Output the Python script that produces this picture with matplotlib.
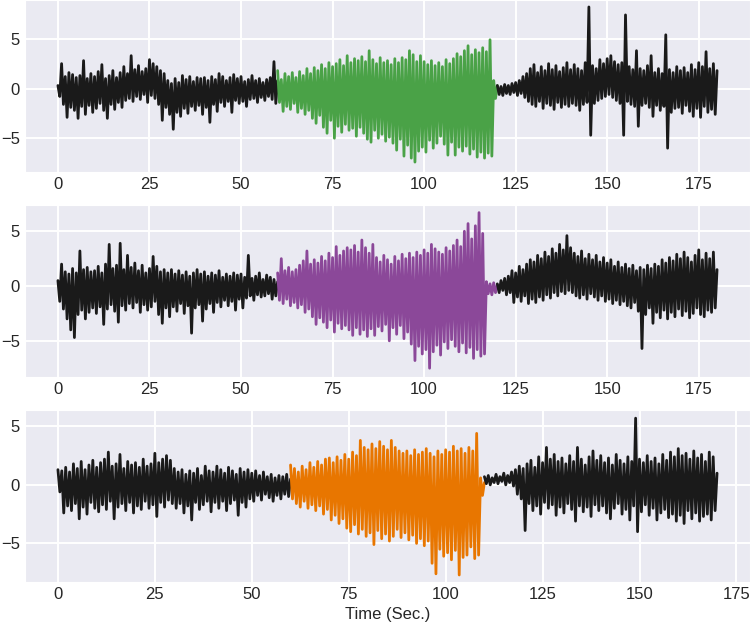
import numpy as np
import matplotlib
matplotlib.use("Agg")
import matplotlib.pyplot as plt
import seaborn as sns

# signal samples, one value every 0.5 s
p1_black_a = [0.3, -0.8, 2.5, -1.6, 1.2, -2.9, 1.6, -1.9, 1.4, -2.2, 1.1, -3.0, 1.3, -1.8, 2.8, -2.6, 1.0, -1.7, 1.5, -2.4,
              1.2, -2.0, 1.7, -1.5, 2.4, -2.2, 1.0, -3.0, 1.3, -1.6, 1.8, -2.1, 1.1, -1.4, 1.6, -1.9, 2.2, -1.2, 1.5, -1.0,
              3.3, -1.3, 1.9, -0.8, 2.3, -1.1, 1.7, -0.6, 2.0, -1.4, 2.9, -0.7, 2.5, -1.0, 2.2, -1.6, 1.8, -3.2, 1.5, -1.9,
              0.8, -2.6, 0.5, -4.1, 1.0, -2.4, 0.6, -2.8, 1.3, -2.0, 0.9, -2.5, 1.2, -1.8, 0.7, -2.2, 1.1, -1.7, 1.0, -2.6,
              1.1, -1.9, 0.8, -3.4, 1.2, -1.6, 0.9, -2.3, 1.5, -1.4, 1.2, -1.8, 0.8, -1.3, 1.1, -2.4, 1.4, -1.2, 1.0, -1.5,
              1.2, -1.3, 0.7, -1.8, 0.9, -1.1, 1.3, -1.0, 0.8, -1.4, 1.0, -0.9, 0.6, -1.2, 0.9, -0.8, 1.1, -1.1, 2.7, -1.5,
              0.8]
p1_green = [1.8, -1.4, 0.9, -2.3, 1.5, -1.8, 1.2, -2.1, 1.6, -1.5, 1.1, -2.4, 1.7, -2.0, 1.3, -2.6, 2.0, -2.2, 1.5, -3.0,
            2.1, -3.5, 1.8, -2.7, 2.4, -3.9, 2.0, -4.5, 2.6, -3.2, 2.2, -5.0, 2.5, -3.8, 2.9, -4.4, 2.3, -3.6, 3.3, -4.2,
            2.6, -4.0, 3.0, -4.8, 2.8, -3.9, 3.2, -4.5, 2.7, -5.1, 3.8, -5.4, 2.9, -4.2, 2.5, -5.0, 3.1, -4.6, 2.6, -5.3,
            2.8, -4.9, 2.4, -5.5, 3.0, -6.2, 2.6, -5.1, 3.1, -6.8, 2.9, -5.7, 3.8, -7.0, 3.4, -7.4, 2.7, -6.3, 3.3, -5.9,
            2.7, -6.4, 2.4, -5.2, 2.8, -6.0, 2.3, -5.5, 2.6, -4.8, 2.2, -5.6, 2.9, -6.7, 2.5, -5.4, 3.0, -6.7, 3.5, -5.9,
            3.2, -6.3, 3.8, -5.8, 4.3, -6.6, 3.4, -6.1, 3.9, -6.9, 3.6, -6.4, 4.1, -7.0, 3.7, -6.5, 4.9, -6.8, 0.8, -1.0,
            0.3]
p1_black_b = [0.3, -0.6, 0.2, -0.7, 0.4, -0.5, 0.3, -0.6, 0.5, -0.4, 0.6, -0.7, 0.8, -0.5, 1.2, -0.9, 1.5, -1.3, 2.0, -1.6,
              2.4, -1.8, 1.6, -1.3, 2.2, -2.0, 1.8, -1.5, 2.5, -1.7, 1.9, -2.1, 2.3, -1.4, 1.7, -1.9, 2.1, -1.6, 2.6, -1.8,
              1.9, -1.5, 2.4, -1.7, 2.0, -2.2, 1.8, -1.6, 2.6, -1.4, 8.2, -4.7, 2.3, -1.5, 2.0, -1.2, 2.9, -1.0, 2.5, -0.8,
              3.0, -0.6, 3.3, -0.9, 2.7, -1.2, 2.4, -1.5, 2.6, -4.7, 7.4, -1.3, 2.2, -1.6, 1.9, -1.8, 3.8, -3.8, 2.0, -1.7,
              1.8, -1.5, 2.3, -1.9, 3.3, -2.8, 1.6, -1.7, 2.0, -2.2, 1.5, -1.8, 5.4, -6.0, 1.9, -2.4, 1.6, -2.0, 2.2, -1.9,
              1.8, -2.5, 2.1, -1.7, 1.6, -2.3, 2.4, -2.8, 1.9, -2.0, 2.6, -2.9, 2.2, -1.8, 3.7, -2.4, 2.0, -2.1, 2.5, -2.6,
              1.8]

p2_black_a = [0.5, -1.4, 2.0, -2.1, 1.3, -3.0, 1.1, -4.0, 1.6, -4.7, 1.2, -2.6, 3.2, -2.2, 1.5, -3.0, 1.7, -2.4, 1.3, -2.0,
              1.4, -2.5, 1.8, -1.9, 1.2, -3.5, 2.0, -2.1, 3.8, -1.7, 1.6, -2.3, 1.9, -3.3, 3.9, -1.8, 1.5, -2.2, 2.8, -1.6,
              1.7, -2.0, 2.1, -1.5, 1.4, -2.4, 1.9, -1.7, 1.2, -2.2, 1.6, -1.9, 2.7, -1.4, 1.8, -2.6, 1.3, -3.4, 1.5, -2.0,
              1.2, -2.8, 1.5, -1.9, 1.1, -2.3, 1.4, -1.6, 1.0, -2.5, 1.3, -1.8, 0.9, -4.3, 1.2, -2.0, 1.5, -1.7, 1.1, -3.2,
              1.3, -2.1, 0.9, -1.6, 1.2, -2.4, 1.0, -1.5, 1.4, -1.9, 0.8, -1.3, 1.1, -1.8, 0.9, -1.4, 1.2, -2.2, 1.0, -1.2,
              1.1, -2.0, 0.8, -1.1, 2.8, -0.9, 0.7, -1.3, 0.9, -0.8, 1.2, -1.0, 0.6, -0.9, 1.0, -0.7, 0.8, -1.2, 0.6, -0.9,
              0.4]
p2_purple = [1.2, -1.3, 2.5, -1.6, 1.4, -1.2, 1.7, -1.8, 1.3, -1.5, 1.5, -2.0, 1.9, -1.7, 2.3, -2.4, 3.2, -2.1, 2.0, -2.8,
             2.4, -3.5, 2.1, -2.9, 2.7, -3.3, 2.3, -3.8, 3.0, -3.1, 2.6, -4.2, 3.6, -3.4, 2.8, -3.9, 3.2, -3.6, 3.5, -4.0,
             3.3, -4.5, 3.7, -3.8, 3.1, -4.4, 4.2, -4.0, 3.5, -4.6, 3.0, -3.9, 3.8, -4.5, 2.6, -3.7, 2.2, -4.1, 2.8, -3.5,
             2.4, -5.0, 2.0, -3.8, 2.7, -4.4, 2.3, -3.6, 2.9, -4.8, 2.5, -4.2, 3.0, -5.3, 2.6, -6.8, 3.1, -5.5, 2.8, -6.2,
             3.3, -5.8, 3.0, -7.5, 3.8, -6.0, 3.4, -5.4, 3.1, -6.3, 2.9, -5.1, 3.5, -5.7, 3.2, -4.9, 3.7, -5.5, 4.2, -6.0,
             3.6, -5.2, 5.0, -6.1, 5.7, -5.6, 4.3, -6.6, 5.5, -5.8, 6.7, -6.4, 4.8, -6.2, 0.4, -0.7, 0.2, -0.8, 0.3, -0.6,
             0.1]
p2_black_b = [0.2, -0.6, 0.5, -0.4, 0.7, -0.8, 0.9, -0.6, 1.4, -1.5, 1.2, -1.0, 1.8, -1.4, 1.5, -0.9, 2.0, -1.6, 2.4, -1.2,
              2.2, -1.5, 2.8, -1.0, 2.5, -1.3, 3.1, -0.8, 2.7, -1.1, 3.4, -0.6, 3.0, -0.9, 3.8, -0.5, 3.3, -0.7, 4.6, -0.4,
              3.5, -0.6, 3.0, -0.9, 2.7, -1.1, 3.2, -0.8, 2.5, -1.2, 2.9, -0.7, 2.4, -1.0, 2.8, -1.3, 2.2, -0.9, 2.6, -1.4,
              2.1, -1.2, 2.4, -1.6, 1.8, -1.3, 2.2, -1.7, 1.7, -1.4, 2.0, -1.8, 1.6, -2.0, 1.9, -1.5, 1.4, -2.3, 1.7, -5.7,
              1.5, -2.6, 1.9, -2.0, 1.6, -3.4, 2.0, -2.4, 1.8, -2.9, 2.4, -2.2, 2.1, -3.0, 2.6, -2.4, 2.3, -2.8, 2.9, -2.1,
              2.5, -2.7, 3.1, -2.3, 2.6, -2.9, 2.2, -2.5, 2.8, -2.0, 3.3, -2.6, 2.4, -2.8, 3.0, -2.2, 2.5, -2.4, 3.1, -2.0,
              1.5]

p3_black_a = [1.3, -0.6, 1.2, -2.4, 1.5, -1.8, 1.1, -2.2, 1.8, -1.6, 1.4, -2.9, 2.0, -1.9, 1.3, -2.5, 1.7, -1.5, 2.1, -2.0,
              1.5, -2.3, 1.9, -1.7, 2.2, -2.1, 2.8, -1.4, 1.6, -2.9, 1.8, -1.9, 2.6, -1.6, 1.4, -2.2, 2.0, -1.5, 1.7, -2.4,
              1.9, -1.8, 1.5, -2.1, 2.2, -1.4, 1.6, -2.0, 1.8, -1.7, 2.7, -2.7, 1.9, -1.5, 2.2, -1.9, 2.5, -1.3, 2.1, -1.6,
              1.4, -2.0, 1.1, -1.6, 1.3, -2.4, 0.9, -1.8, 1.2, -3.0, 1.0, -1.5, 1.4, -2.1, 0.8, -1.7, 1.6, -1.4, 1.2, -2.3,
              1.1, -1.5, 1.6, -2.0, 1.3, -1.4, 1.0, -2.2, 1.5, -1.6, 1.2, -1.3, 0.9, -2.6, 1.4, -1.5, 1.1, -1.9, 1.3, -1.2,
              1.0, -1.4, 1.2, -0.9, 0.8, -1.3, 1.1, -0.8, 0.7, -1.1, 0.9, -1.4, 0.6, -0.9, 0.8, -1.2, 0.7, -0.8, 0.9, -1.0,
              0.5]
p3_orange = [1.7, -1.2, 1.4, -1.6, 1.1, -1.9, 1.6, -1.4, 1.3, -2.0, 1.9, -1.7, 1.5, -2.2, 2.0, -1.8, 1.7, -2.5, 2.2, -2.1,
             2.3, -3.0, 1.9, -2.6, 2.4, -3.3, 2.1, -2.9, 2.6, -3.7, 2.2, -4.0, 2.8, -3.4, 2.5, -4.2, 3.8, -3.8, 3.2, -4.4,
             3.0, -4.1, 3.5, -5.1, 3.1, -3.9, 3.7, -4.6, 3.3, -4.2, 3.0, -4.8, 3.8, -4.4, 3.2, -3.8, 2.9, -4.5, 2.7, -4.1,
             2.9, -4.7, 2.5, -4.3, 3.0, -5.0, 2.6, -4.6, 2.8, -5.2, 3.1, -4.8, 2.7, -6.7, 2.4, -7.6, 2.9, -5.5, 2.6, -6.1,
             3.0, -5.8, 2.8, -6.4, 3.3, -5.6, 2.9, -7.7, 3.1, -6.2, 2.7, -6.0, 3.2, -5.3, 2.9, -6.3, 4.4, -6.0, 0.6, -0.9,
             0.2]
p3_black_b = [0.7, 0.1, 0.8, 0.0, 0.6, 0.2, 0.9, 0.1, 0.7, 0.3, 1.0, 0.0, 0.8, 0.2, 1.1, -0.1, 1.3, -0.8, 1.6, -1.2,
              1.4, -3.9, 1.8, -1.6, 2.1, -2.2, 1.5, -1.8, 2.4, -2.5, 1.9, -1.5, 3.2, -2.0, 2.2, -1.7, 2.6, -2.6, 2.0, -1.9,
              2.3, -2.4, 1.8, -1.6, 2.5, -2.1, 2.0, -3.1, 3.2, -1.8, 2.2, -2.3, 1.7, -1.9, 2.4, -2.7, 2.9, -1.7, 2.1, -2.2,
              2.5, -1.8, 1.9, -2.4, 2.3, -2.9, 1.7, -2.0, 2.6, -1.6, 2.1, -2.5, 1.8, -2.1, 2.4, -3.0, 2.0, -1.8, 5.7, -4.0,
              2.2, -2.3, 1.9, -1.7, 2.5, -2.6, 2.0, -2.0, 2.3, -3.0, 1.8, -2.4, 2.6, -2.1, 2.1, -2.8, 2.8, -2.5, 2.4, -3.1,
              3.1, -2.6, 2.5, -3.3, 2.7, -2.2, 2.2, -2.9, 2.9, -2.4, 2.3, -3.1, 2.6, -2.7, 2.0, -2.5, 2.8, -3.0, 2.4, -2.2,
              1.0]

# segment start times (sec) and sample step
dt = 0.5
panels = [
    [(0, p1_black_a, '#1a1a1a'), (60, p1_green, '#4aa247'), (120, p1_black_b, '#1a1a1a')],
    [(0, p2_black_a, '#1a1a1a'), (60, p2_purple, '#8b4899'), (120, p2_black_b, '#1a1a1a')],
    [(0, p3_black_a, '#1a1a1a'), (60, p3_orange, '#e87600'), (110, p3_black_b, '#1a1a1a')],
]
xlims = [(-9, 189), (-9, 189), (-8.5, 178.5)]
ylims = [(-8.4, 8.9), (-8.3, 7.4), (-8.3, 6.4)]
xticks = [0, 25, 50, 75, 100, 125, 150, 175]
yticks = [-5, 0, 5]

sns.set_style("darkgrid")
plt.rcParams['font.family'] = ['Liberation Sans', 'DejaVu Sans']

fig = plt.figure(figsize=(7.5, 6.32), dpi=100)
bottoms = [0.7278, 0.4035, 0.0791]
for i, segs in enumerate(panels):
    ax = fig.add_axes([0.0333, bottoms[i], 0.9667, 0.2722])
    for start, vals, col in segs:
        t = start + dt * np.arange(len(vals))
        ax.plot(t, vals, color=col, lw=2.0)
    ax.set_xlim(*xlims[i])
    ax.set_ylim(*ylims[i])
    ax.set_xticks(xticks)
    ax.set_yticks(yticks)
    ax.grid(lw=1.4)
    ax.tick_params(labelsize=12, colors='#262626', length=0)
    if i == 2:
        ax.set_xlabel('Time (Sec.)', fontsize=12, color='#262626')

fig.savefig('out.png', dpi=100)
